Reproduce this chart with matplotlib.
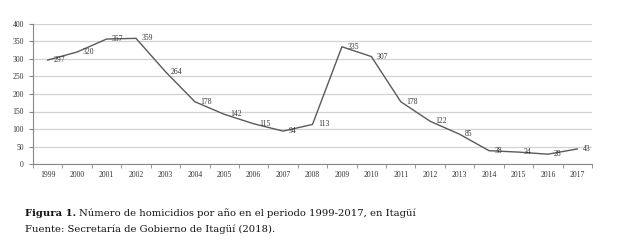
import matplotlib
matplotlib.use("Agg")
import matplotlib.pyplot as plt

years = ["1999", "2000", "2001", "2002", "2003", "2004", "2005", "2006", "2007", "2008",
         "2009", "2010", "2011", "2012", "2013", "2014", "2015", "2016", "2017"]
homicidios = [297, 320, 357, 359, 264, 178, 142, 115, 94, 113,
              335, 307, 178, 122, 85, 38, 34, 28, 43]
yticks = [0, 50, 100, 150, 200, 250, 300, 350, 400]

plt.rcParams["font.family"] = ["Liberation Serif", "DejaVu Serif"]

fig = plt.figure(figsize=(6.26, 2.42), dpi=100)
ax = fig.add_axes([33 / 626, 1 - 164 / 242, (592 - 33) / 626, (164 - 24) / 242])

x = list(range(len(years)))
ax.plot(x, homicidios, "-", color="#5a5a5a", linewidth=1.0)
for xi, v in zip(x, homicidios):
    ax.annotate(str(v), (xi, v), xytext=(4, 0), textcoords="offset points",
                fontsize=5.5, va="center", ha="left", color="#333333")

ax.set_xlim(-0.5, len(years) - 0.5)
ax.set_ylim(0, 400)
ax.set_yticks(yticks)
ax.set_xticks(x)
ax.set_xticklabels(years)
ax.set_xticks([i - 0.5 for i in range(len(years) + 1)], minor=True)
ax.tick_params(axis="x", which="major", length=0, labelsize=5.5, pad=5, colors="#333333")
ax.tick_params(axis="x", which="minor", length=3, color="#888888")
ax.tick_params(axis="y", length=3, labelsize=5.5, color="#888888", labelcolor="#333333")
ax.grid(axis="y", color="#d2d2d2", linewidth=0.9)
ax.set_axisbelow(True)
for s in ["top", "right"]:
    ax.spines[s].set_visible(False)
for s in ["left", "bottom"]:
    ax.spines[s].set_color("#888888")
    ax.spines[s].set_linewidth(0.8)

# pie de figura
cap = dict(fontsize=7.2, va="center", ha="left", color="#111111", family="DejaVu Serif")
t1 = fig.text(25 / 626, 1 - 213 / 242, "Figura 1.", fontweight="bold", **cap)
fig.canvas.draw()
bb = t1.get_window_extent()
fig.text((bb.x1 + 3) / 626, 1 - 213 / 242,
         "Número de homicidios por año en el periodo 1999-2017, en Itagüí", **cap)
fig.text(25 / 626, 1 - 229 / 242, "Fuente: Secretaría de Gobierno de Itagüí (2018).", **cap)

fig.savefig("out.png", dpi=100)
